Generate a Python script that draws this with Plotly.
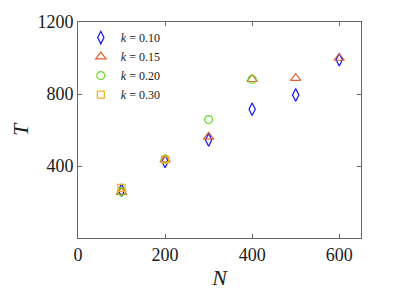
import plotly.graph_objects as go

N_vals = [100, 200, 300, 400, 500, 600]
T_k010 = [265, 425, 545, 715, 795, 990]
T_k015 = [255, 435, 562, 882, 888, 1000]
N_k020 = [100, 200, 300, 400]
T_k020 = [258, 438, 658, 882]
N_k030 = [100, 200]
T_k030 = [278, 435]

x_ticks = [0, 200, 400, 600]
y_ticks = [400, 800, 1200]

fig = go.Figure()
series = [
    ("<i>k</i> = 0.10", N_vals, T_k010, "diamond-tall-open", "#1010FF", 9),
    ("<i>k</i> = 0.15", N_vals, T_k015, "triangle-up-open", "#E0622E", 9),
    ("<i>k</i> = 0.20", N_k020, T_k020, "circle-open", "#66D92A", 8),
    ("<i>k</i> = 0.30", N_k030, T_k030, "square-open", "#F0B020", 7),
]
for name, xs, ys, sym, col, sz in series:
    fig.add_trace(go.Scatter(
        x=xs, y=ys, mode="markers", name=name,
        marker=dict(symbol=sym, size=sz, color=col, line=dict(width=1.2, color=col)),
    ))

axis_common = dict(
    showline=True, linecolor="#666666", linewidth=1, mirror="ticks",
    ticks="inside", ticklen=4, tickcolor="#666666", showgrid=False, zeroline=False,
    automargin=False,
    tickfont=dict(family="Liberation Serif", size=18, color="#1a1a1a"),
)
fig.update_xaxes(range=[0, 650], tickvals=x_ticks,
                 title=dict(text="<i>N</i>", font=dict(family="Liberation Serif", size=22, color="#1a1a1a"), standoff=6),
                 **axis_common)
fig.update_yaxes(range=[0, 1200], tickvals=y_ticks,
                 title=dict(text="<i>T</i>", font=dict(family="Liberation Serif", size=22, color="#1a1a1a"), standoff=23),
                 **axis_common)
fig.update_layout(
    width=391, height=288,
    margin=dict(l=70, r=38, t=14, b=58),
    plot_bgcolor="white", paper_bgcolor="white",
    showlegend=True,
    legend=dict(x=0.01, y=0.995, xanchor="left", yanchor="top",
                bgcolor="rgba(0,0,0,0)", font=dict(family="Liberation Serif", size=12, color="#1a1a1a"),
                itemwidth=30, tracegroupgap=0),
)
fig.write_html("out.html")
